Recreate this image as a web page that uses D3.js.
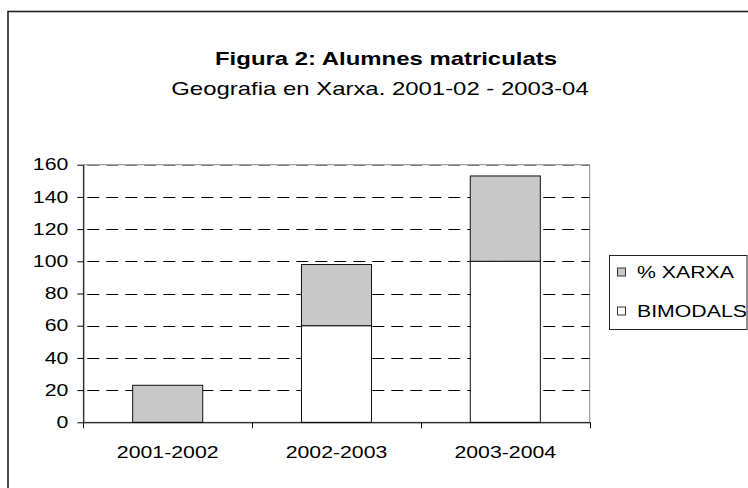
<!DOCTYPE html>
<html>
<head>
<meta charset="utf-8">
<script src="https://cdn.jsdelivr.net/npm/d3@7"></script>
<style>
  html, body { margin: 0; padding: 0; background: #fff; }
  svg { display: block; }
  text { font-family: "Liberation Sans", Arial, sans-serif; fill: #000; }
</style>
</head>
<body>
<svg id="chart" width="748" height="488"></svg>
<script>
// ---- data ----
const categories = ["2001-2002", "2002-2003", "2003-2004"];
const bimodals = [0, 60, 100];     // white, bottom
const xarxa = [23, 38, 53];        // grey, stacked on top
const seriesNames = ["BIMODALS", "% XARXA"];
const yTicks = [0, 20, 40, 60, 80, 100, 120, 140, 160];
const titleText = "Figura 2: Alumnes matriculats";
const subtitleText = "Geografia en Xarxa. 2001-02 - 2003-04";

// ---- layout ----
const SX = 1.33; // horizontal stretch of the text in the reference
const W = 748, H = 488;
const plot = { left: 83.3, right: 589.7, top: 164.7, bottom: 422.3 };
const greyFill = "#c8c8c8";

const svg = d3.select("#chart");

// outer frame (runs off the right and bottom edges)
svg.append("rect")
  .attr("x", 8).attr("y", 11.5).attr("width", 800).attr("height", 600)
  .attr("fill", "none").attr("stroke", "#222").attr("stroke-width", 1.6);

// titles
svg.append("text")
  .attr("transform", `translate(386,65) scale(${SX},1)`)
  .attr("text-anchor", "middle")
  .style("font-size", "18px").style("font-weight", "bold")
  .text(titleText);
svg.append("text")
  .attr("transform", `translate(380,95) scale(${SX},1)`)
  .attr("text-anchor", "middle")
  .style("font-size", "18px")
  .text(subtitleText);

// scales
const x = d3.scaleBand().domain(categories).range([plot.left, plot.right]).padding(0);
const y = d3.scaleLinear().domain([0, 160]).range([plot.bottom, plot.top]);

// plot area border (grey)
svg.append("rect")
  .attr("x", plot.left).attr("y", plot.top)
  .attr("width", plot.right - plot.left).attr("height", plot.bottom - plot.top)
  .attr("fill", "none").attr("stroke", "#8a8a8a").attr("stroke-width", 1);

// gridlines
const grid = svg.append("g");
grid.selectAll("line.g").data(yTicks.filter(d => d > 0)).join("line")
  .attr("x1", plot.left).attr("x2", plot.right)
  .attr("y1", d => Math.round(y(d)) + 0.5).attr("y2", d => Math.round(y(d)) + 0.5)
  .attr("stroke", d => d === 160 ? "#7a7a7a" : "#000")
  .attr("stroke-width", 1)
  .attr("stroke-dasharray", "12,7")
  .attr("stroke-dashoffset", -4);

// stacked bars
const barW = x.bandwidth() * 0.415;
const stackData = categories.map((c, i) => ({ cat: c, BIMODALS: bimodals[i], "% XARXA": xarxa[i] }));
const stacked = d3.stack().keys(seriesNames)(stackData);
const fills = { "BIMODALS": "#ffffff", "% XARXA": greyFill };

svg.append("g").selectAll("g").data(stacked).join("g")
  .attr("fill", d => fills[d.key])
  .selectAll("rect").data(d => d.filter(s => s[1] - s[0] > 0)).join("rect")
  .attr("x", d => x(d.data.cat) + (x.bandwidth() - barW) / 2)
  .attr("y", d => y(d[1]))
  .attr("width", barW)
  .attr("height", d => y(d[0]) - y(d[1]))
  .attr("stroke", "#111").attr("stroke-width", 1);

// y axis
const yAxis = svg.append("g")
  .attr("transform", `translate(${plot.left},0)`)
  .call(d3.axisLeft(y).tickValues(yTicks).tickSize(6).tickSizeOuter(0));
yAxis.select(".domain").attr("stroke", "#000");
yAxis.selectAll(".tick line").attr("stroke", "#000");
yAxis.selectAll(".tick text")
  .attr("x", -15 / SX)
  .attr("transform", `scale(${SX},1)`)
  .style("font-size", "16px")
  .style("font-family", "'Liberation Sans', Arial, sans-serif")
  .attr("fill", "#000");

// x axis (labels centred, ticks at band boundaries)
const xAxis = svg.append("g")
  .attr("transform", `translate(0,${plot.bottom})`)
  .call(d3.axisBottom(x).tickSize(0).tickSizeOuter(0).tickPadding(0));
xAxis.select(".domain").attr("stroke", "#000");
xAxis.selectAll(".tick text")
  .attr("y", 36)
  .attr("dy", 0)
  .attr("transform", `scale(${SX},1)`)
  .style("font-size", "16px")
  .style("font-family", "'Liberation Sans', Arial, sans-serif")
  .attr("fill", "#000");
const bounds = categories.map(c => x(c)).concat([x(categories[categories.length - 1]) + x.bandwidth()]);
xAxis.selectAll("line.bt").data(bounds).join("line")
  .attr("class", "bt")
  .attr("x1", d => Math.round(d) + 0.5).attr("x2", d => Math.round(d) + 0.5)
  .attr("y1", 0).attr("y2", 6)
  .attr("stroke", "#000");

// legend
const defs = svg.append("defs");
defs.append("clipPath").attr("id", "legclip")
  .append("rect").attr("x", 609.5).attr("y", 255.5).attr("width", 137.5).attr("height", 74);
const leg = svg.append("g");
leg.append("rect")
  .attr("x", 609.5).attr("y", 255.5).attr("width", 137.5).attr("height", 74)
  .attr("fill", "#fff").attr("stroke", "#222").attr("stroke-width", 1);
const legendItems = seriesNames.slice().reverse();
const legG = leg.append("g").attr("clip-path", "url(#legclip)");
const li = legG.selectAll("g").data(legendItems).join("g")
  .attr("transform", (d, i) => `translate(617.5,${272 + i * 39})`);
li.append("rect")
  .attr("x", 0).attr("y", -4).attr("width", 8).attr("height", 8)
  .attr("fill", d => fills[d]).attr("stroke", "#333").attr("stroke-width", 1);
li.append("text")
  .attr("transform", `translate(19.5,6) scale(${SX},1)`)
  .style("font-size", "16px")
  .text(d => d);
</script>
</body>
</html>
